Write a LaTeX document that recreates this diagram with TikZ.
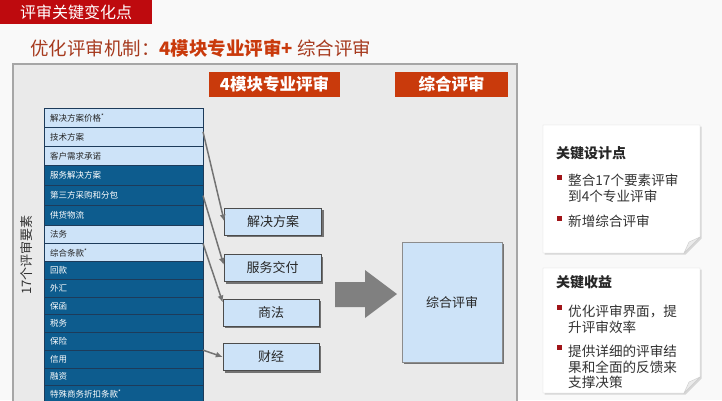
\documentclass[tikz,border=0pt]{standalone}
\usepackage{fontspec}
\setmainfont{Noto Sans CJK SC}
\usepackage{xcolor}
\usetikzlibrary{positioning,arrows.meta,shadows}

\definecolor{hdred}{HTML}{BE0A0E}
\definecolor{ttlred}{HTML}{A63A1E}
\definecolor{tagred}{HTML}{C93A0C}
\definecolor{lightrow}{HTML}{CDE3F8}
\definecolor{darkrow}{HTML}{0D5C8E}
\definecolor{rowline}{HTML}{1D3B5A}
\definecolor{panelgray}{HTML}{EAEAEA}
\definecolor{dotred}{HTML}{A01418}

\begin{document}
\begin{tikzpicture}[x=1pt, y=-1pt,
  rowbox/.style={draw=rowline, line width=0.6pt, outer sep=0pt, minimum width=159pt, minimum height=17.7pt, inner xsep=6pt, inner ysep=0pt, text width=147pt, align=left, font=\fontsize{8.5}{9}\selectfont, anchor=north west},
  lite/.style={rowbox, fill=lightrow, text=black!85},
  dark/.style={rowbox, fill=darkrow, text=white},
  tag/.style={fill=tagred, text=white, minimum height=25pt, inner sep=0pt, font=\fontsize{16.5}{17}\selectfont\bfseries},
  module/.style={draw=black!70, fill=lightrow, minimum width=97pt, minimum height=27pt, inner sep=0pt, font=\fontsize{13}{14}\selectfont, text=black!85, drop shadow={shadow xshift=2pt, shadow yshift=-2pt, fill=black!55, opacity=1}},
  link/.style={-{Latex[length=7pt,width=6pt]}, line width=1.5pt, draw=black!55},
  note/.style={draw=black!15, fill=white, drop shadow={shadow xshift=1.5pt, shadow yshift=-1.5pt, fill=black!25, opacity=0.6}},
  notehead/.style={anchor=west, inner sep=0pt, font=\fontsize{14}{16}\selectfont\bfseries, text=black!85},
  notetext/.style={anchor=north west, inner sep=0pt, text width=132pt, align=left, font=\fontsize{13.6}{15.5}\selectfont, text=black!80},
  dot/.style={fill=dotred, minimum size=5pt, inner sep=0pt}
]
\useasboundingbox (0,0) rectangle (722,400);
\clip (0,0) rectangle (722,400);
\fill[gray!5] (0,0) rectangle (722,400);

% header and title
\fill[hdred] (0,0) rectangle (152,24);
\node[text=white, font=\fontsize{16}{17}\selectfont] (hdr) at (76,12) {评审关键变化点};
\node[anchor=west, inner sep=0pt, font=\fontsize{18.5}{20}\selectfont, text=ttlred] (title) at (30,48)
  {优化评审机制：{\color{tagred}\bfseries 4模块专业评审+} 综合评审};

% main panel
\draw[fill=panelgray, draw=black!35, line width=1.5pt] (13,64) rectangle (517,415);
\node[tag, minimum width=131pt] (tagmod) at (274.5,84.5) {4模块专业评审};
\node[tag, minimum width=113pt] (tagall) at (451.5,84.5) {综合评审};

% 17 review items
\node[lite, minimum height=19.2pt] (r1) at (44,108) {解决方案价格\textsuperscript{*}};
\node[lite, minimum height=19.2pt, below=0pt of r1] (r2) {技术方案};
\node[lite, minimum height=19.2pt, below=0pt of r2] (r3) {客户需求承诺};
\node[dark, minimum height=20pt, below=0pt of r3] (r4) {服务解决方案};
\node[dark, minimum height=20pt, below=0pt of r4] (r5) {第三方采购和分包};
\node[dark, minimum height=20pt, below=0pt of r5] (r6) {供货物流};
\node[lite, minimum height=18pt, below=0pt of r6] (r7) {法务};
\node[lite, minimum height=18pt, below=0pt of r7] (r8) {综合条款\textsuperscript{*}};
\node[dark, below=0pt of r8] (r9) {回款};
\node[dark, below=0pt of r9] (r10) {外汇};
\node[dark, below=0pt of r10] (r11) {保函};
\node[dark, below=0pt of r11] (r12) {税务};
\node[dark, below=0pt of r12] (r13) {保险};
\node[dark, below=0pt of r13] (r14) {信用};
\node[dark, below=0pt of r14] (r15) {融资};
\node[dark, below=0pt of r15] (r16) {特殊商务折扣条款\textsuperscript{*}};

\node[rotate=90, font=\fontsize{13}{14}\selectfont, text=black!80] (axis) at (27,255) {17个评审要素};

% four modules
\node[module] (m1) at (273,221.5) {解决方案};
\node[module] (m2) at (272.5,268) {服务交付};
\node[module, minimum width=96pt] (m3) at (271,312.5) {商法};
\node[module, minimum width=96pt] (m4) at (271,357) {财经};

\draw[link] ([yshift=5pt]r2.east) -- (m1.west);
\draw[link] (r5.east) -- ([yshift=3pt]m2.west);
\draw[link] (r8.north east) -- ([yshift=10pt]m3.west);
\draw[link] (r13.south east) -- (m4.west);

% combined review
\fill[black!50] (335,282) -- (365,282) -- (365,270) -- (397,294) -- (365,318) -- (365,307) -- (335,307) -- cycle;
\node[module, draw=black!45, minimum width=100pt, minimum height=120pt] (zh) at (452,302) {综合评审};

% notes on the right
\draw[note] (543,125) -- (700,125) -- (700,237) -- (684,253) -- (543,253) -- cycle;
\filldraw[draw=black!20, fill=black!8] (700,237) -- (689,242) -- (684,253) -- cycle;
\node[notehead] (key1) at (556,153) {关键设计点};
\node[dot] (d1) at (559,177) {};
\node[notetext] (t1) at (568,174) {整合17个要素评审\\到4个专业评审};
\node[dot] (d2) at (559,218) {};
\node[notetext] (t2) at (568,215) {新增综合评审};

\draw[note] (543,268) -- (700,268) -- (700,377) -- (684,393) -- (543,393) -- cycle;
\filldraw[draw=black!20, fill=black!8] (700,377) -- (689,382) -- (684,393) -- cycle;
\node[notehead] (key2) at (556,282) {关键收益};
\node[dot] (d3) at (559,307) {};
\node[notetext] (t3) at (568,305) {优化评审界面，提\\升评审效率};
\node[dot] (d4) at (559,347) {};
\node[notetext] (t4) at (568,345) {提供详细的评审结\\果和全面的反馈来\\支撑决策};

\end{tikzpicture}
\end{document}
